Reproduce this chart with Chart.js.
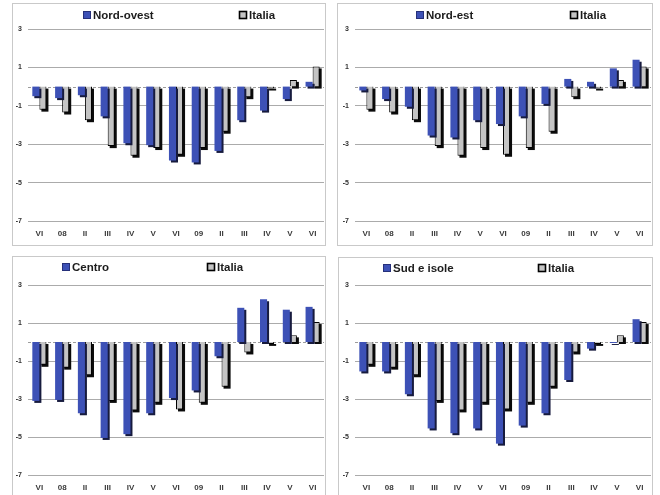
<!DOCTYPE html>
<html>
<head>
<meta charset="utf-8">
<script src="https://cdn.jsdelivr.net/npm/chart.js@4.4.1/dist/chart.umd.min.js"></script>
<style>
  html, body { margin: 0; padding: 0; background: #fff; width: 660px; height: 495px; overflow: hidden; }
  .panel { position: absolute; border: 1px solid #c9c9c9; background: #fff; }
  .panel canvas { display: block; }
</style>
</head>
<body>
<div class="panel" style="left:12px;top:3px"><canvas id="nordOvestChart" width="312" height="241"></canvas></div>
<div class="panel" style="left:337px;top:3px"><canvas id="nordEstChart" width="314" height="241"></canvas></div>
<div class="panel" style="left:12px;top:256px"><canvas id="centroChart" width="312" height="246"></canvas></div>
<div class="panel" style="left:338px;top:257px"><canvas id="sudChart" width="313" height="246"></canvas></div>

<script>
// Quarters from mid-2008 to late 2009 (bimonthly periods)
const quarters = ['VI', '08', 'II', 'III', 'IV', 'V', 'VI', '09', 'II', 'III', 'IV', 'V', 'VI'];

// Percentage changes
const italia     = [-1.2, -1.35, -1.75, -3.1, -3.6, -3.2, -3.55, -3.2, -2.35, -0.55, -0.1, 0.35, 1.05];
const nordOvest  = [-0.5, -0.6, -0.45, -1.55, -2.95, -3.05, -3.85, -3.95, -3.35, -1.75, -1.25, -0.65, 0.25];
const nordEst    = [-0.2, -0.65, -1.05, -2.55, -2.65, -1.75, -1.95, -1.55, -0.9, 0.4, 0.25, 0.95, 1.4];
const centro     = [-3.1, -3.05, -3.75, -5.05, -4.85, -3.75, -2.95, -2.55, -0.75, 1.8, 2.25, 1.7, 1.85];
const sudIsole   = [-1.55, -1.55, -2.75, -4.55, -4.8, -4.55, -5.35, -4.4, -3.75, -2.0, -0.35, -0.05, 1.2];

// Value axis tick labels
const yTicks = [-7, -5, -3, -1, 1, 3];

const FONT = '"Liberation Sans", Arial, Helvetica, sans-serif';

// Dashed baseline at zero
const zeroLine = {
  id: 'zeroLine',
  beforeDatasetsDraw(chart) {
    const { ctx, chartArea: a } = chart;
    const y = Math.round(chart.scales.y.getPixelForValue(0)) + 0.5;
    ctx.save();
    ctx.strokeStyle = '#9c9c9c';
    ctx.lineWidth = 1;
    ctx.setLineDash([3, 2]);
    ctx.beginPath();
    ctx.moveTo(a.left, y);
    ctx.lineTo(a.right, y);
    ctx.stroke();
    ctx.restore();
  }
};

// Offset dark block behind each bar for a raised look
const barShadow = {
  id: 'barShadow',
  beforeDatasetDraw(chart, args) {
    const ds = chart.data.datasets[args.index];
    const { ctx, chartArea: a } = chart;
    ctx.save();
    ctx.beginPath();
    ctx.rect(a.left, a.top, a.right - a.left + 3, a.bottom - a.top + 3);
    ctx.clip();
    ctx.fillStyle = ds.shadowColor;
    args.meta.data.forEach(bar => {
      const p = bar.getProps(['x', 'y', 'base', 'width'], true);
      const top = Math.min(p.y, p.base);
      const h = Math.abs(p.base - p.y);
      ctx.fillRect(p.x - p.width / 2 + 2, top + 2, p.width, h);
    });
    ctx.restore();
  }
};

// Two-item legend placed along the top of the panel
const pairLegend = {
  id: 'pairLegend',
  afterDraw(chart, args, opts) {
    const ctx = chart.ctx;
    ctx.save();
    ctx.font = 'bold 11.5px ' + FONT;
    ctx.textBaseline = 'middle';
    chart.data.datasets.forEach((ds, i) => {
      const x = opts.x[i];
      const y = opts.y;
      ctx.fillStyle = ds.backgroundColor;
      ctx.fillRect(x, y - 4, 8, 8);
      ctx.lineWidth = ds.legendEdgeWidth;
      ctx.strokeStyle = ds.legendEdge;
      ctx.strokeRect(x + 0.5, y - 3.5, 7, 7);
      ctx.fillStyle = '#1c1c1c';
      ctx.fillText(ds.label, x + 10, y + 0.5);
    });
    ctx.restore();
  }
};

function drawPanel(canvasId, regionLabel, regionValues, area, legendPos) {
  const cv = document.getElementById(canvasId);
  return new Chart(cv, {
    type: 'bar',
    data: {
      labels: quarters,
      datasets: [
        {
          label: regionLabel,
          data: regionValues,
          backgroundColor: '#3d51b6',
          borderWidth: 0,
          shadowColor: '#171b3e',
          legendEdge: '#26307a',
          legendEdgeWidth: 1
        },
        {
          label: 'Italia',
          data: italia,
          backgroundColor: '#c4c4c4',
          borderColor: '#000',
          borderWidth: 1,
          shadowColor: '#0b0b0b',
          legendEdge: '#000',
          legendEdgeWidth: 1.6
        }
      ]
    },
    options: {
      responsive: false,
      animation: false,
      events: [],
      layout: { padding: { top: area.top, right: cv.width - area.right, left: 0, bottom: 0 } },
      datasets: { bar: { categoryPercentage: 0.62, barPercentage: 1 } },
      plugins: {
        legend: { display: false },
        tooltip: { enabled: false },
        pairLegend: { x: legendPos.x, y: legendPos.y }
      },
      scales: {
        x: {
          grid: { display: false, drawTicks: false },
          border: { display: false },
          ticks: {
            autoSkip: false, maxRotation: 0, padding: 8, color: '#3a3a3a',
            font: { family: FONT, size: 8, weight: 'bold' }
          },
          afterFit(s) { s.height = cv.height - area.bottom; }
        },
        y: {
          min: -7,
          max: 3,
          afterBuildTicks(s) { s.ticks = yTicks.map(v => ({ value: v })); },
          grid: { color: '#ababab', lineWidth: 1, drawTicks: false },
          border: { display: false },
          ticks: {
            padding: 6, color: '#333',
            font: { family: FONT, size: 7, weight: 'bold' }
          },
          afterFit(s) { s.width = area.left; }
        }
      }
    },
    plugins: [zeroLine, barShadow, pairLegend]
  });
}

drawPanel('nordOvestChart', 'Nord-ovest', nordOvest, { left: 15, top: 25, right: 311, bottom: 217 }, { x: [70, 226], y: 11 });
drawPanel('nordEstChart', 'Nord-est', nordEst, { left: 17, top: 25, right: 313, bottom: 217 }, { x: [78, 232], y: 11 });
drawPanel('centroChart', 'Centro', centro, { left: 15, top: 28, right: 311, bottom: 218 }, { x: [49, 194], y: 10 });
drawPanel('sudChart', 'Sud e isole', sudIsole, { left: 16, top: 27, right: 312, bottom: 217 }, { x: [44, 199], y: 10 });
</script>
</body>
</html>
